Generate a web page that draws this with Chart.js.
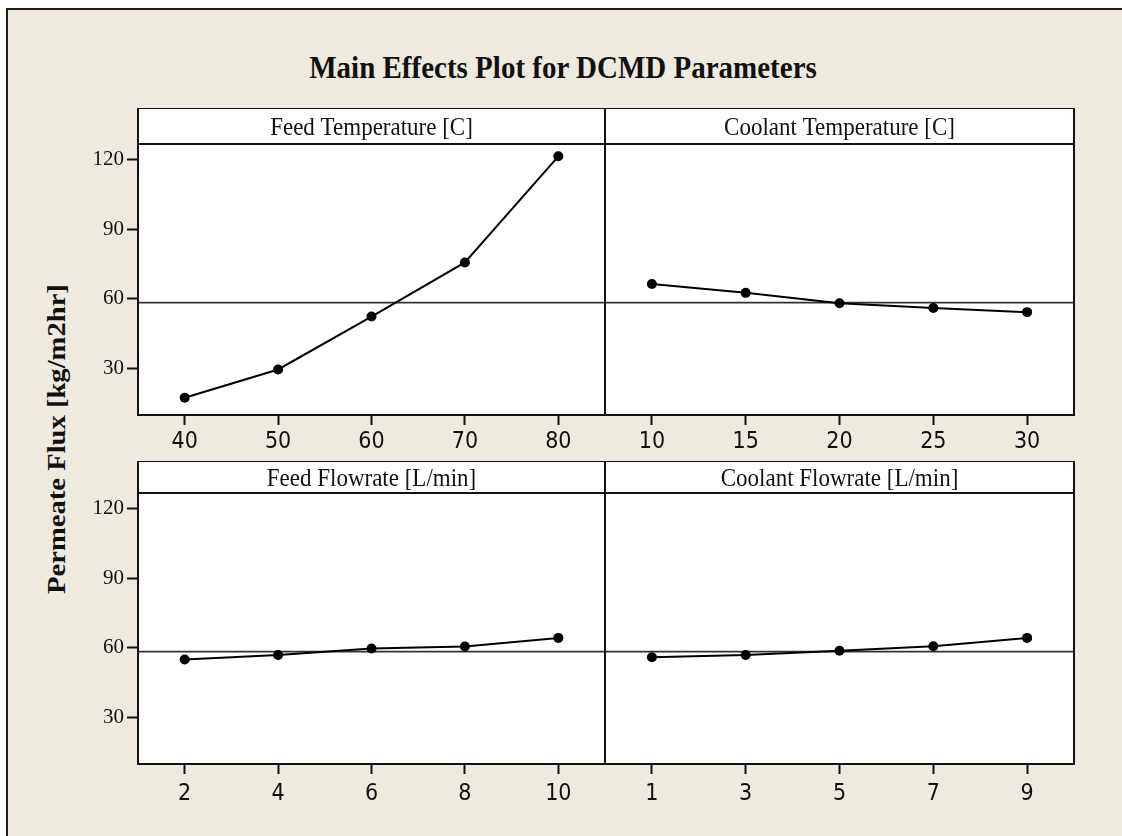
<!DOCTYPE html>
<html>
<head>
<meta charset="utf-8">
<script src="https://cdn.jsdelivr.net/npm/chart.js@4/dist/chart.umd.min.js"></script>
<style>
  html, body { margin: 0; padding: 0; background: #ffffff; }
  #page { position: relative; width: 1122px; height: 836px; overflow: hidden; background: #ffffff; }
  #frame {
    position: absolute; left: 6px; top: 8px; width: 1200px; height: 900px;
    border-left: 2px solid #1c1c1c; border-top: 2px solid #1c1c1c;
    background: #eeeae0;
  }
  #mainTitle {
    position: absolute; left: 0; top: 54px; width: 1126px; text-align: center;
    font-family: 'Liberation Serif', 'Times New Roman', serif; font-weight: bold;
    font-size: 29px; line-height: 1; color: #111;
    transform-origin: 50% 24px; transform: scaleY(1.12);
  }
  #yTitle {
    position: absolute; left: -143px; top: 424px; width: 400px; height: 30px;
    text-align: center; line-height: 30px;
    font-family: 'Liberation Serif', 'Times New Roman', serif; font-weight: bold;
    font-size: 26px; color: #111; transform: rotate(-90deg) scaleX(1.1);
  }
  canvas { position: absolute; }
</style>
</head>
<body>
<div id="page">
  <div id="frame"></div>
  <div id="mainTitle">Main Effects Plot for DCMD Parameters</div>
  <div id="yTitle">Permeate Flux [kg/m2hr]</div>
  <canvas id="c1"></canvas>
  <canvas id="c2"></canvas>
  <canvas id="c3"></canvas>
  <canvas id="c4"></canvas>
</div>
<script>
// Factor levels
const feedTemp = [40, 50, 60, 70, 80];
const coolantTemp = [10, 15, 20, 25, 30];
const feedFlow = [2, 4, 6, 8, 10];
const coolantFlow = [1, 3, 5, 7, 9];

// Mean permeate flux at each level [kg/m2hr]
const fluxFeedTemp = [17.4, 29.6, 52.4, 75.7, 121.4];
const fluxCoolantTemp = [66.4, 62.6, 58.1, 56.1, 54.3];
const fluxFeedFlow = [55.0, 56.9, 59.7, 60.6, 64.3];
const fluxCoolantFlow = [56.0, 56.9, 58.8, 60.7, 64.3];

// Grand mean reference line
const grandMean = 58.4;

// Panel headers
const panelTitles = ['Feed Temperature [C]', 'Coolant Temperature [C]', 'Feed Flowrate [L/min]', 'Coolant Flowrate [L/min]'];

// Shared y axis
const yTicks = [30, 60, 90, 120];
const yMin = 10, yMax = 126.7;

const SERIF = "'Liberation Serif', 'Times New Roman', serif";
const SANS = "'DejaVu Sans Condensed', 'Liberation Sans', Arial, sans-serif";

// Header strip, white plot area, reference line and frame
const panelDecor = {
  id: 'panelDecor',
  beforeDraw(chart, args, opts) {
    const a = chart.chartArea, ctx = chart.ctx;
    ctx.save();
    ctx.fillStyle = '#ffffff';
    ctx.fillRect(a.left, a.top - opts.headerH, a.right - a.left, a.bottom - a.top + opts.headerH);
    ctx.restore();
  },
  beforeDatasetsDraw(chart, args, opts) {
    const a = chart.chartArea, ctx = chart.ctx;
    ctx.save();
    const y = chart.scales.y.getPixelForValue(opts.refValue);
    ctx.strokeStyle = '#333333';
    ctx.lineWidth = 1.6;
    ctx.beginPath();
    ctx.moveTo(a.left, y);
    ctx.lineTo(a.right, y);
    ctx.stroke();
    ctx.restore();
  },
  afterDraw(chart, args, opts) {
    const a = chart.chartArea, ctx = chart.ctx;
    ctx.save();
    ctx.strokeStyle = '#111111';
    ctx.lineWidth = 2;
    ctx.strokeRect(a.left, a.top - opts.headerH, a.right - a.left, opts.headerH);
    ctx.strokeRect(a.left, a.top, a.right - a.left, a.bottom - a.top);
    ctx.fillStyle = '#111111';
    ctx.font = opts.fontSize + 'px ' + SERIF;
    ctx.textAlign = 'center';
    ctx.textBaseline = 'alphabetic';
    ctx.translate((a.left + a.right) / 2, a.top - opts.headerH / 2 + opts.fontSize * 0.38);
    ctx.scale(1, 1.1);
    ctx.fillText(opts.title, 0, 0);
    ctx.restore();
  }
};

function makePanel(id, cfg) {
  const { levels, flux, title, plotLeft, plotRight, headerTop, headerH, plotH, showY, xAxisH, labelPad } = cfg;
  const yAxisW = showY ? 60 : 0;
  const padL = showY ? 0 : 6;
  const padR = 6;
  const canvas = document.getElementById(id);
  const w = padL + yAxisW + (plotRight - plotLeft) + padR;
  const h = headerH + plotH + xAxisH;
  canvas.width = w; canvas.height = h;
  canvas.style.width = w + 'px'; canvas.style.height = h + 'px';
  canvas.style.left = (plotLeft - yAxisW - padL) + 'px';
  canvas.style.top = headerTop + 'px';

  const step = levels[1] - levels[0];
  const chart = new Chart(canvas, {
    type: 'line',
    data: {
      datasets: [{
        data: levels.map((x, i) => ({ x: x, y: flux[i] })),
        borderColor: '#000000',
        borderWidth: 2,
        pointRadius: 5,
        pointBackgroundColor: '#000000',
        pointBorderWidth: 0,
        tension: 0,
        clip: false
      }]
    },
    options: {
      responsive: false,
      animation: false,
      devicePixelRatio: 1,
      layout: { padding: { top: headerH, left: padL, right: padR, bottom: 0 } },
      plugins: {
        legend: { display: false },
        tooltip: { enabled: false },
        panelDecor: { title: title, headerH: headerH, fontSize: 23, refValue: grandMean }
      },
      scales: {
        x: {
          type: 'linear',
          min: levels[0] - step / 2,
          max: levels[levels.length - 1] + step / 2,
          afterBuildTicks: s => { s.ticks = levels.map(v => ({ value: v })); },
          afterFit: s => { s.height = xAxisH; },
          grid: { drawOnChartArea: false, drawTicks: true, tickLength: 10, tickWidth: 2, tickColor: '#111111' },
          border: { display: false },
          ticks: { font: { family: SANS, size: 23 }, color: '#111111', padding: labelPad, maxRotation: 0, autoSkip: false }
        },
        y: {
          type: 'linear',
          display: showY,
          min: yMin,
          max: yMax,
          afterBuildTicks: s => { s.ticks = yTicks.map(v => ({ value: v })); },
          afterFit: s => { s.width = yAxisW; },
          grid: { drawOnChartArea: false, drawTicks: true, tickLength: 11, tickWidth: 2, tickColor: '#111111' },
          border: { display: false },
          ticks: { font: { family: SERIF, size: 21 }, color: '#111111', padding: 3 }
        }
      }
    },
    plugins: [panelDecor]
  });

  // keep the plot rectangle exactly where the grid expects it
  const a = chart.chartArea;
  canvas.style.left = (plotLeft - a.left) + 'px';
  canvas.style.top = (headerTop + headerH - a.top) + 'px';
}

makePanel('c1', { levels: feedTemp, flux: fluxFeedTemp, title: panelTitles[0], plotLeft: 138, plotRight: 605, headerTop: 108, headerH: 36, plotH: 271, showY: true, xAxisH: 42, labelPad: 3 });
makePanel('c2', { levels: coolantTemp, flux: fluxCoolantTemp, title: panelTitles[1], plotLeft: 605, plotRight: 1074, headerTop: 108, headerH: 36, plotH: 271, showY: false, xAxisH: 42, labelPad: 3 });
makePanel('c3', { levels: feedFlow, flux: fluxFeedFlow, title: panelTitles[2], plotLeft: 138, plotRight: 605, headerTop: 461, headerH: 32, plotH: 271, showY: true, xAxisH: 48, labelPad: 6 });
makePanel('c4', { levels: coolantFlow, flux: fluxCoolantFlow, title: panelTitles[3], plotLeft: 605, plotRight: 1074, headerTop: 461, headerH: 32, plotH: 271, showY: false, xAxisH: 48, labelPad: 6 });
</script>
</body>
</html>
